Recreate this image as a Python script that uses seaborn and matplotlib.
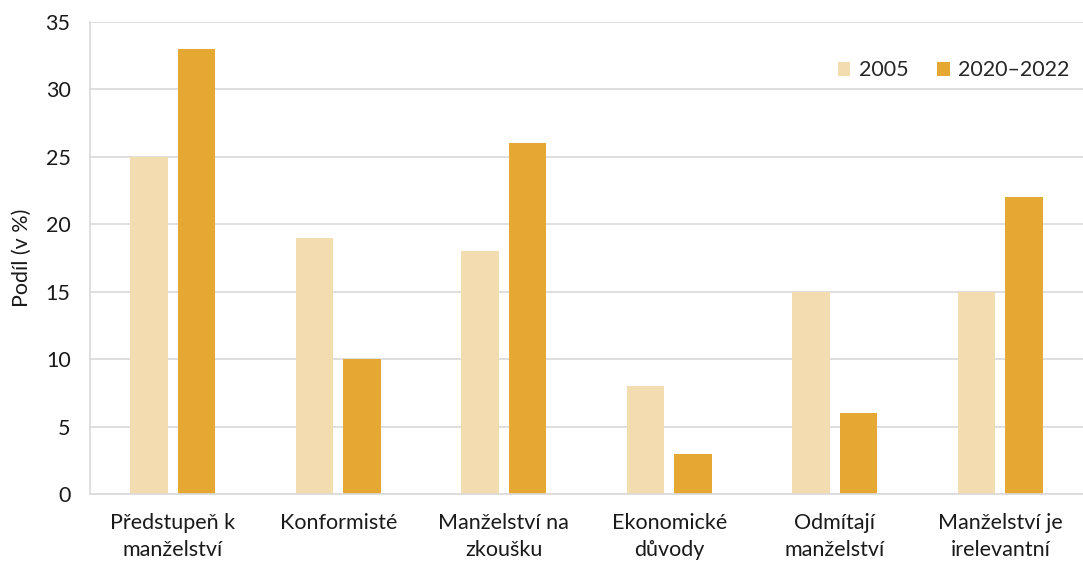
import matplotlib
matplotlib.use("Agg")
import matplotlib.pyplot as plt
import seaborn as sns
import pandas as pd

categories = ["Předstupeň k\nmanželství", "Konformisté", "Manželství na\nzkoušku",
              "Ekonomické\ndůvody", "Odmítají\nmanželství", "Manželství je\nirelevantní"]
series_names = ["2005", "2020–2022"]
values_2005 = [25, 19, 18, 8, 15, 15]
values_2020 = [33, 10, 26, 3, 6, 22]
yticks = [0, 5, 10, 15, 20, 25, 30, 35]

df = pd.DataFrame({
    "cat": categories * 2,
    "series": [series_names[0]] * 6 + [series_names[1]] * 6,
    "val": values_2005 + values_2020,
})

sns.set_theme(style="white")
plt.rcParams["font.family"] = ["Lato", "DejaVu Sans"]

fig = plt.figure(figsize=(10.83, 5.65), dpi=100)
ax = fig.add_axes([90/1083, 71/565, 993/1083, 472/565])

palette = {"2005": "#F3DDB0", "2020–2022": "#E5A832"}
sns.barplot(data=df, x="cat", y="val", hue="series", palette=palette,
            width=0.574, gap=0.22, ax=ax, saturation=1, linewidth=0)

fs = 15.5
ax.set_ylim(0, 35)
ax.set_yticks(yticks)
ax.set_xlim(-0.5, 5.5)
ax.yaxis.grid(True, color="#D9D9D9", linewidth=1.2)
ax.set_axisbelow(True)
for s in ["top", "right"]:
    ax.spines[s].set_visible(False)
ax.spines["left"].set_color("#D9D9D9")
ax.spines["bottom"].set_color("#D9D9D9")
ax.spines["left"].set_linewidth(1.2)
ax.spines["bottom"].set_linewidth(1.2)
ax.tick_params(axis="both", length=0, labelsize=fs, colors="#1a1a1a")
ax.tick_params(axis="x", pad=14)
ax.tick_params(axis="y", pad=14)
for lab in ax.get_xticklabels():
    lab.set_linespacing(1.4)
ax.set_xlabel("")
ax.set_ylabel("Podíl (v %)", fontsize=fs, color="#1a1a1a", labelpad=10)

leg = ax.legend(loc="upper right", bbox_to_anchor=(1.006, 0.96), ncol=2, frameon=False,
                fontsize=fs, handlelength=0.6, handleheight=0.6, columnspacing=1.3,
                handletextpad=0.4)

fig.savefig("out.png", dpi=100)
